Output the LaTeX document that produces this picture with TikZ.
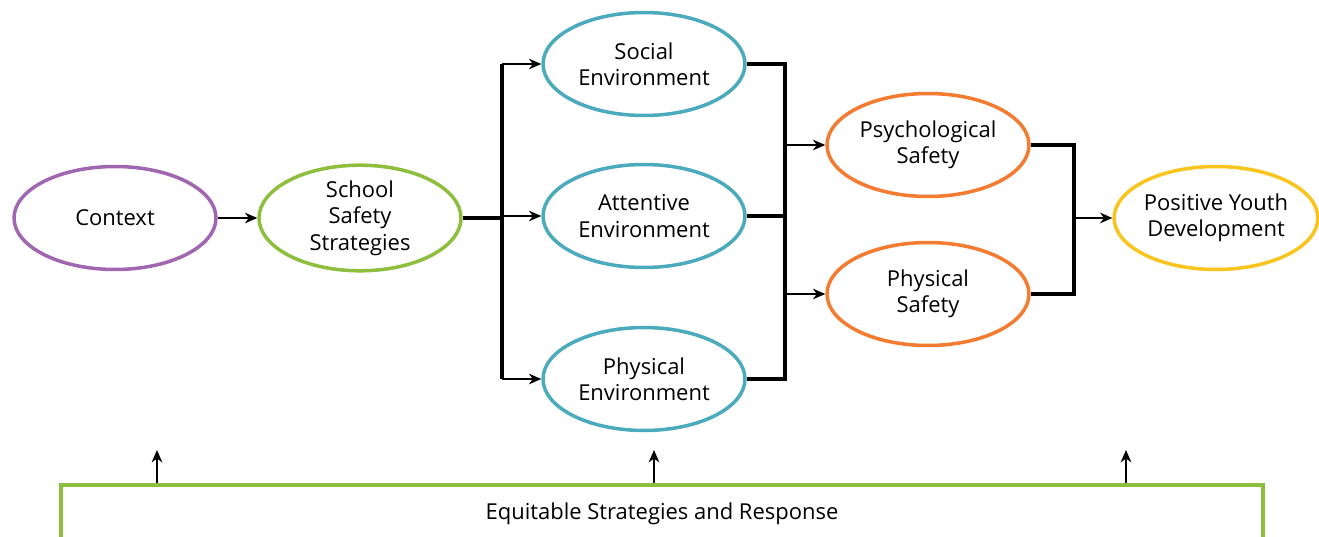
\documentclass[tikz,border=0pt]{standalone}
\usepackage{fontspec}
\setmainfont{Open Sans}
\usetikzlibrary{shapes.geometric,arrows.meta}

\definecolor{ctxpurple}{RGB}{160,102,176}
\definecolor{safegreen}{RGB}{141,190,62}
\definecolor{envteal}{RGB}{75,170,188}
\definecolor{safeorange}{RGB}{244,123,48}
\definecolor{pydyellow}{RGB}{250,196,30}

\tikzset{
  blob/.style={ellipse, draw, line width=2pt, minimum width=4.04cm, minimum height=2.06cm,
    inner sep=0pt, align=center, font=\fontsize{12.5}{15}\selectfont},
  link/.style={line width=1.2pt, -{Stealth[length=7pt,width=6pt,inset=2.2pt]}},
  bar/.style={line width=2.3pt}
}

\begin{document}
\begin{tikzpicture}[x=0.02cm,y=-0.02cm]
  \useasboundingbox (0,0) rectangle (1319,537);

  % Ellipses
  \node[blob, draw=ctxpurple] (ctx) at (115,218) {Context};
  \node[blob, draw=safegreen] (sss) at (360,218) {School\\Safety\\Strategies};
  \node[blob, draw=envteal] (soc) at (644,64) {Social\\Environment};
  \node[blob, draw=envteal] (att) at (644,216) {Attentive\\Environment};
  \node[blob, draw=envteal] (phe) at (644,379) {Physical\\Environment};
  \node[blob, draw=safeorange] (psy) at (928,145) {Psychological\\Safety};
  \node[blob, draw=safeorange] (phs) at (928,294) {Physical\\Safety};
  \node[blob, draw=pydyellow] (pyd) at (1216,218) {Positive Youth\\Development};

  % Forks
  \coordinate (fork1) at (502,218);
  \coordinate (fork2) at (785,218);
  \coordinate (fork3) at (1074,218);

  \draw[link] (ctx) -- (sss);

  \draw[bar] (sss.east) -- (fork1);
  \draw[bar] (fork1 |- soc) -- (fork1 |- phe);
  \draw[link] (fork1 |- soc) -- (soc);
  \draw[link] (fork1 |- att) -- (att);
  \draw[link] (fork1 |- phe) -- (phe);

  \draw[bar] (soc.east) -- (soc.east -| fork2) -- (phe.east -| fork2) -- (phe.east);
  \draw[bar] (att.east) -- (att.east -| fork2);
  \draw[link] (fork2 |- psy) -- (psy);
  \draw[link] (fork2 |- phs) -- (phs);

  \draw[bar] (psy.east) -- (psy.east -| fork3) -- (phs.east -| fork3) -- (phs.east);
  \draw[link] (fork3 |- pyd) -- (pyd);

  % Bottom box
  \node[draw=safegreen, line width=2.3pt, minimum width=24.04cm, minimum height=1.16cm,
    inner sep=0pt, font=\fontsize{12.5}{15}\selectfont] (esr) at (662,514)
    {Equitable Strategies and Response};
  \foreach \x [count=\i] in {157,654,1126} {
    \coordinate (up\i) at (\x,450);
    \draw[link] (esr.north -| up\i) -- (up\i);
  }
\end{tikzpicture}
\end{document}
